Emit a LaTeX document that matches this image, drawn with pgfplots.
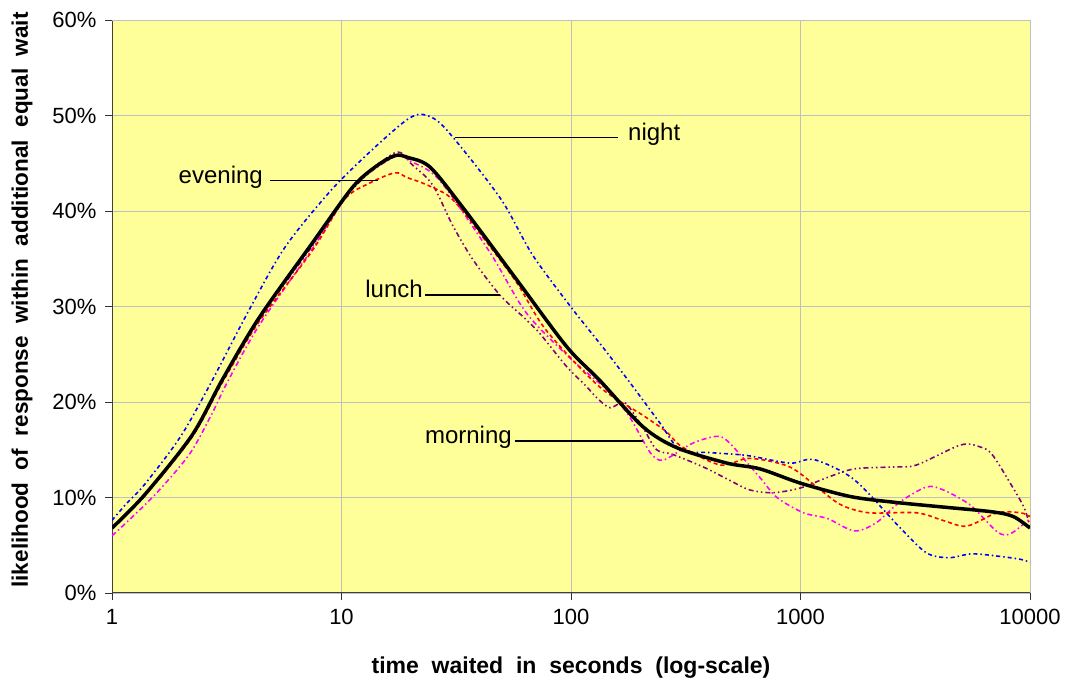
\documentclass[border=0pt]{standalone}
\usepackage{pgfplots}
\pgfplotsset{compat=1.18}
\usepackage{fontspec}
\setmainfont{Liberation Sans}
\definecolor{bgyellow}{HTML}{FFFF99}
\definecolor{gridgray}{HTML}{C0C0C0}
\definecolor{lnblue}{HTML}{0000FF}
\definecolor{lnred}{HTML}{FF0000}
\definecolor{lnmag}{HTML}{FF00FF}
\definecolor{lnpur}{HTML}{800080}
\begin{document}
\begin{tikzpicture}[x=1pt,y=1pt]
\useasboundingbox (0,0) rectangle (1066,684);
\begin{axis}[
  at={(112pt,91pt)}, anchor=south west,
  scale only axis, width=918pt, height=573pt,
  xmode=log, xmin=1, xmax=10000, ymin=0, ymax=60,
  axis background/.style={fill=bgyellow},
  axis lines=left, axis line style={-, color=black!75, line width=1pt},
  xtick={1,10,100,1000,10000}, xticklabels={1,10,100,1000,10000},
  ytick={0,10,20,30,40,50,60}, yticklabels={0\%,10\%,20\%,30\%,40\%,50\%,60\%},
  minor tick length=0pt, minor xtick={},
  major tick length=7pt, tick align=outside, tick style={black!80, line width=0.8pt},
  grid=major, grid style={gridgray, line width=0.9pt},
  tick label style={font=\fontsize{22}{26}\selectfont},
  xticklabel style={yshift=-6pt},
  yticklabel style={xshift=-5pt},
  clip=true,
]
% top and right border
\draw[gridgray, line width=0.9pt] (rel axis cs:0,1) -- (rel axis cs:1,1) -- (rel axis cs:1,0);

% purple (lunch)
\addplot[lnpur, line width=1.6pt, smooth, dash pattern=on 5pt off 3pt on 1.5pt off 3pt on 1.5pt off 3pt] coordinates {
(1,6.8) (1.39,10.2) (2.23,16.4) (3.02,22.2) (4.37,28.6) (7.44,36.3) (11.1,42.2) (17.1,46.1)
(20.4,44.8) (25,42.7) (30.5,38.5) (37.4,34.9) (49,31.2) (62,28.9) (73,27.2) (95,23.8) (117,21.6)
(130,20.4) (148,19.4) (172,19.9) (206,17.3) (236,15.0) (278,14.5) (377,13.2) (491,11.8) (600,10.8)
(760,10.5) (1000,11.0) (1310,12.1) (1720,13.0) (2560,13.2) (3200,13.4) (4990,15.5) (6060,15.3)
(6840,14.5) (8200,11.5) (9400,9.0) (10000,7.0)};

% magenta (morning)
\addplot[lnmag, line width=1.6pt, smooth, dash pattern=on 5pt off 3pt on 1.5pt off 3pt] coordinates {
(1,6.0) (1.1,6.9) (1.54,10.3) (2.17,14.5) (2.73,18.8) (3.17,22.0) (4.37,28.0) (7.44,36.0)
(11.1,42.4) (17.1,45.7) (20,45.2) (26.8,43.2) (44.5,35.6) (64,29.3) (100,24.5) (140,21.5)
(176,18.8) (220,14.8) (244,13.9) (268,14.2) (340,15.7) (433,16.4) (491,15.7) (665,12.1)
(790,10.0) (1030,8.4) (1310,7.8) (1720,6.5) (2150,7.4) (2700,9.5) (3540,11.1) (4180,10.8)
(5500,9.2) (7200,6.4) (8200,6.2) (9800,7.6) (10000,7.8)};

% red (evening)
\addplot[lnred, line width=1.6pt, smooth, dash pattern=on 4pt off 3pt] coordinates {
(1,6.8) (1.39,10.2) (2.23,16.3) (3.02,22.0) (4.37,28.4) (7.44,35.8) (10.3,41.2) (13.2,42.9)
(17.1,44.0) (19.3,43.5) (22.7,42.9) (28.8,41.7) (33.5,40.1) (41.5,37.2) (58,32.5) (78,27.5)
(133,21.6) (206,18.6) (260,16.9) (305,15.3) (448,13.4) (600,14.1) (898,13.2) (1220,10.8)
(1510,9.2) (1990,8.4) (3200,8.4) (4180,7.6) (5300,7.0) (7200,8.4) (9100,8.4) (10000,8.0)};

% blue (night)
\addplot[lnblue, line width=1.6pt, smooth, dash pattern=on 4pt off 3pt on 1.5pt off 3pt] coordinates {
(1,7.6) (1.16,9.4) (1.38,11.3) (1.98,16.3) (2.67,21.8) (3.95,29.6) (5.67,36.2) (8.8,41.9)
(11.9,45.1) (16.1,48.0) (19.7,49.7) (22.7,50.1) (28.2,48.7) (49,41.4) (68,35.4) (101,29.8)
(138,25.7) (181,22.0) (244,17.8) (299,15.0) (404,14.7) (584,14.4) (898,13.6) (1130,14.0)
(1520,12.7) (1860,11.1) (2700,6.9) (3540,4.2) (4450,3.7) (5600,4.1) (7580,3.8) (9200,3.5) (10000,3.2)};

% black (all)
\addplot[black, line width=3.5pt, smooth] coordinates {
(1,6.8) (1.39,10.3) (2.23,16.5) (3.02,22.3) (4.37,28.8) (7.44,36.6) (11.1,42.4) (14,44.6)
(17.1,45.8) (19.5,45.6) (24.3,44.6) (33.7,40.4) (58,32.8) (95.7,25.8) (133,22.3) (206,17.4)
(290,15.2) (478,13.6) (665,13.0) (1000,11.5) (1650,10.1) (2560,9.5) (4180,9.0) (6840,8.5)
(8470,8.0) (10000,6.8)};

% annotations
\draw[black, line width=1.6pt] (axis cs:31.2,47.7) -- (axis cs:160.2,47.7);
\node[anchor=mid west, inner sep=0pt, font=\fontsize{24}{28}\selectfont] at (axis cs:160.2,47.7) [xshift=10pt] {night};
\draw[black, line width=1.6pt] (axis cs:4.88,43.2) -- (axis cs:14.4,43.2);
\node[anchor=mid east, inner sep=0pt, font=\fontsize{24}{28}\selectfont] at (axis cs:4.88,43.2) [xshift=-7pt] {evening};
\draw[black, line width=1.6pt] (axis cs:23.1,31.2) -- (axis cs:49.0,31.2);
\node[anchor=mid east, inner sep=0pt, font=\fontsize{24}{28}\selectfont] at (axis cs:23.1,31.2) [xshift=-2pt] {lunch};
\draw[black, line width=1.6pt] (axis cs:57.0,15.9) -- (axis cs:206,15.9);
\node[anchor=mid east, inner sep=0pt, font=\fontsize{24}{28}\selectfont] at (axis cs:57.0,15.9) [xshift=-3pt] {morning};
\end{axis}
\node[font=\fontsize{23}{27}\selectfont\bfseries] at (571,16) {time\ \ waited\ \ in\ \ seconds\ \ (log-scale)};
\node[font=\fontsize{22.5}{27}\selectfont\bfseries, rotate=90] at (22,384) {likelihood\ \ of\ \ response\ \ within\ \ additional\ \ equal\ \ wait};
\end{tikzpicture}
\end{document}
